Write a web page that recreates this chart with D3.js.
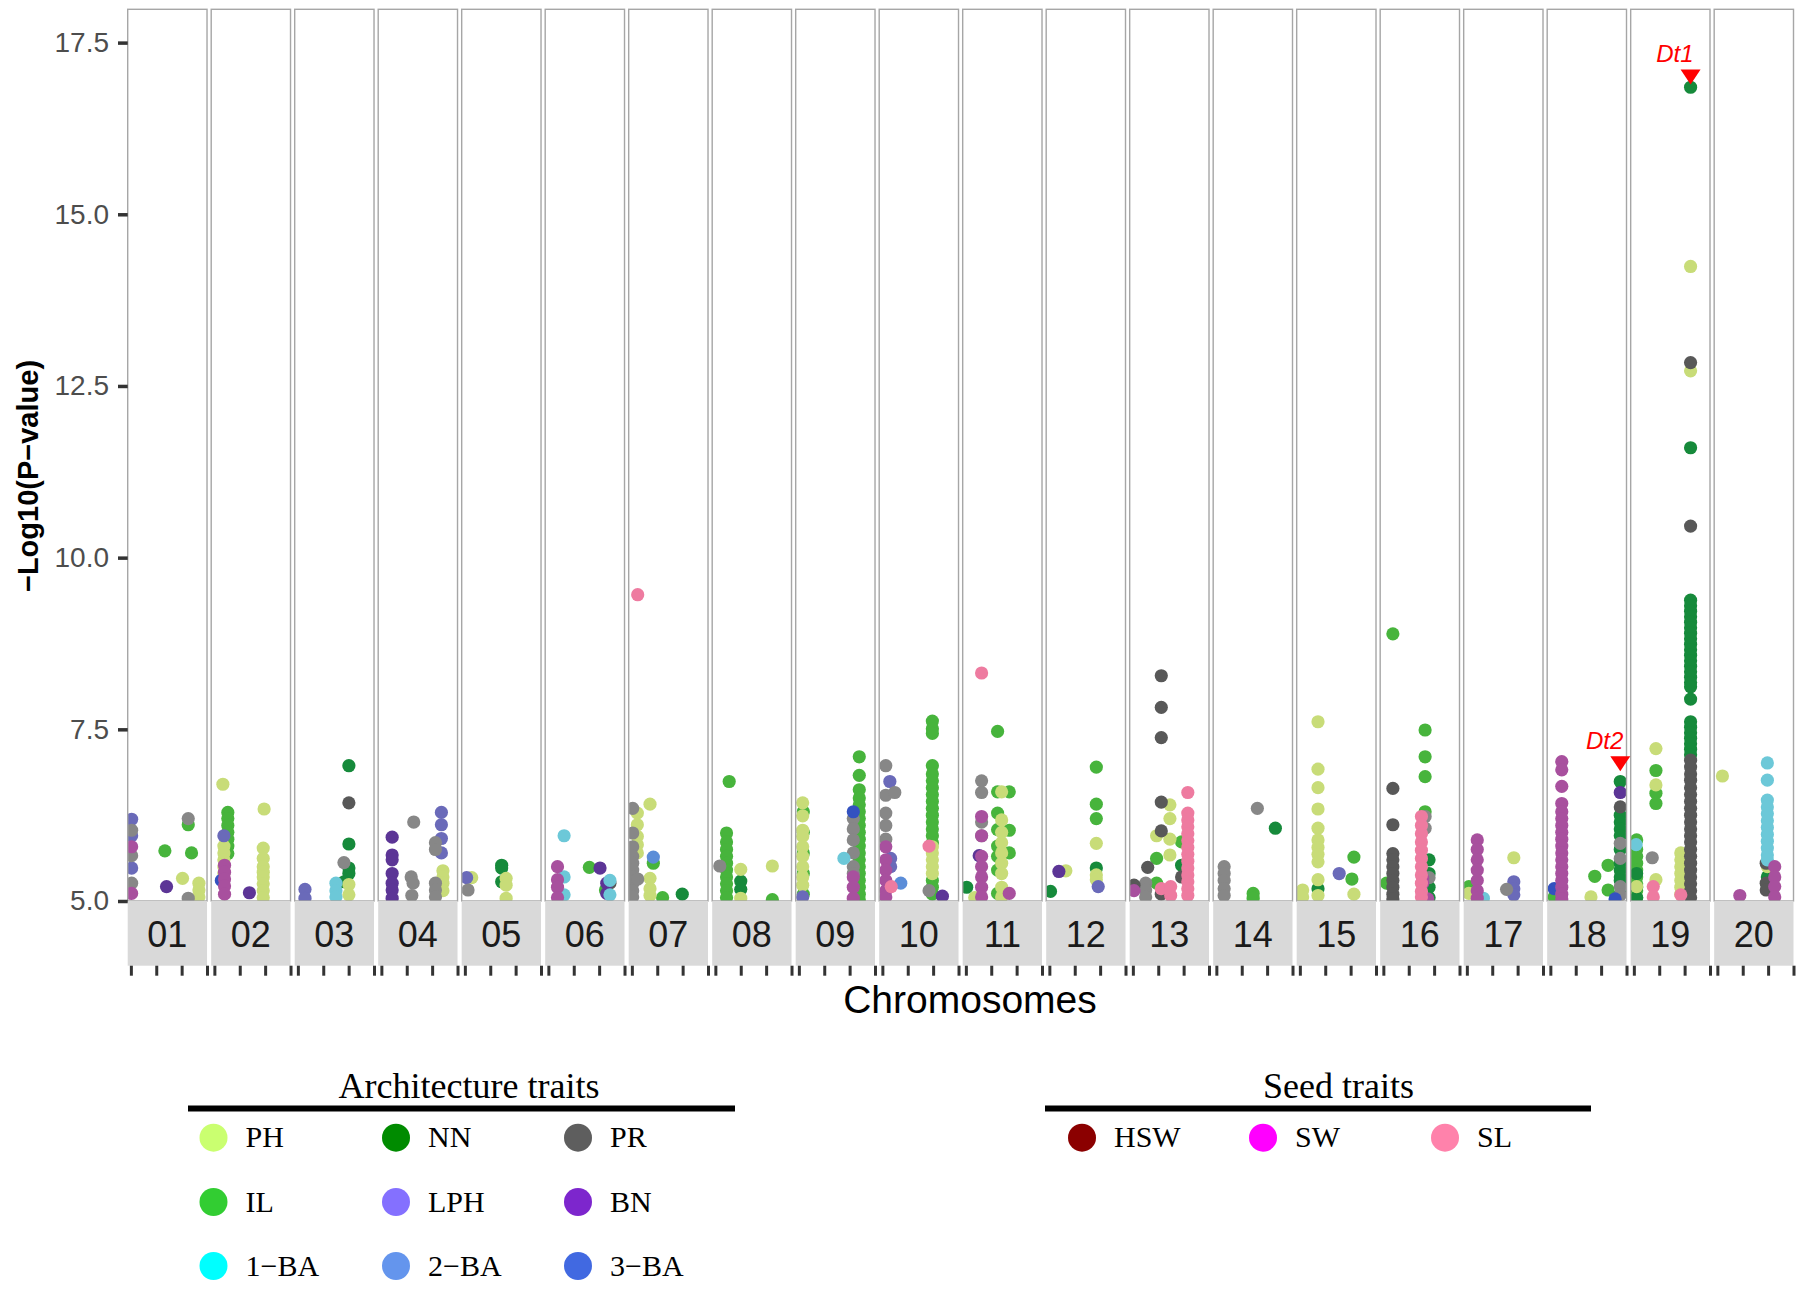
<!DOCTYPE html>
<html>
<head>
<meta charset="utf-8">
<script src="https://cdn.jsdelivr.net/npm/d3@7/dist/d3.min.js"></script>
<style>
  body { margin: 0; background: #fff; }
  svg { display: block; }
</style>
</head>
<body>
<div id="chart"></div>
<script>
// chromosome facets and axis ticks
const chromosomes = ["01","02","03","04","05","06","07","08","09","10",
                     "11","12","13","14","15","16","17","18","19","20"];
const yTicks = [5.0, 7.5, 10.0, 12.5, 15.0, 17.5];
const xTicksMb = [0, 20, 40, 60];

// significant SNPs per trait: [chromosome, position (Mb), -log10(p)]
const IL = [
  [1,26.8,5.73],[1,47.8,5.70],[1,45.2,6.11],
  [2,10.6,6.29],[2,10.6,6.20],[2,10.6,6.10],[2,10.6,6.00],[2,10.6,5.90],[2,10.6,5.80],[2,10.6,5.69],
  [6,32.3,5.49],[6,45,5.16],
  [7,16.9,5.55],[7,24.2,5.05],
  [8,10.9,6.74],[8,8.8,5.99],[8,8.8,5.86],[8,8.8,5.75],[8,8.8,5.65],[8,8.8,5.55],[8,8.8,5.45],
  [8,8.8,5.35],[8,8.8,5.25],[8,8.8,5.15],[8,8.8,5.05],[8,44.9,5.02],
  [9,3.5,6.30],[9,3.5,6.00],[9,3.5,5.70],[9,3.5,5.40],[9,3.5,5.10],
  [9,47.6,7.10],[9,47.6,6.83],[9,47.6,6.62],[9,47.6,6.50],[9,47.6,6.40],[9,47.6,6.30],[9,47.6,6.20],
  [9,47.6,6.10],[9,47.6,6.00],[9,47.6,5.90],[9,47.6,5.80],[9,47.6,5.70],[9,47.6,5.60],[9,47.6,5.50],
  [9,47.6,5.40],[9,47.6,5.30],[9,47.6,5.20],[9,47.6,5.10],[9,47.6,5.02],
  [10,39.4,7.62],[10,39.4,7.51],[10,39.4,7.44],[10,39.4,6.97],[10,39.4,6.85],[10,39.4,6.75],
  [10,39.4,6.65],[10,39.4,6.55],[10,39.4,6.45],[10,39.4,6.35],[10,39.4,6.25],[10,39.4,6.15],
  [10,39.4,6.05],[10,39.4,5.95],[10,39.4,5.85],[10,39.4,5.30],[10,39.4,5.20],[10,39.4,5.10],
  [11,25,7.47],[11,25,6.59],[11,25,6.28],[11,25,6.04],[11,25,5.80],[11,25,5.65],[11,25,5.45],
  [11,25,5.11],[11,34.2,6.59],[11,34.2,6.03],[11,34.2,5.70],
  [12,37,6.95],[12,37,6.41],[12,37,6.20],
  [13,18.7,5.62],[13,18.7,5.26],[13,38.4,5.86],
  [14,29,5.11],[14,29,5.04],
  [15,42.6,5.64],[15,41,5.32],
  [16,7.5,8.89],[16,2.5,5.26],[16,32.9,7.49],[16,32.9,7.10],[16,32.9,6.81],[16,32.9,6.30],
  [17,1.6,5.21],
  [18,3,5.06],[18,35,5.36],[18,45.5,5.52],[18,45.5,5.16],
  [19,2.2,5.89],[19,2.2,5.75],[19,2.2,5.65],[19,2.2,5.55],[19,2.2,5.45],[19,2.2,5.35],
  [19,2.2,5.25],[19,2.2,5.15],[19,2.2,5.05],[19,17.4,6.90],[19,17.4,6.57],[19,17.4,6.42]
];
const NN = [
  [3,40.2,6.97],[3,40.2,5.83],[3,40.2,5.48],[3,40.2,5.40],[3,36.5,5.28],
  [5,29,5.52],[5,29,5.48],[5,29,5.28],
  [7,39.7,5.10],
  [8,20,5.29],[8,20,5.17],
  [11,0.65,5.20],
  [12,0.9,5.14],[12,37,5.48],
  [13,38.4,5.52],
  [14,46.5,6.06],
  [15,14.3,5.18],
  [16,36,5.60],[16,36,5.40],[16,36,5.20],[16,36,5.05],
  [18,55.1,6.74],[18,55.1,6.25],[18,55.1,6.15],[18,55.1,6.05],[18,55.1,5.95],[18,55.1,5.75],
  [18,55.1,5.55],[18,55.1,5.45],[18,55.1,5.35],[18,55.1,5.30],[18,55.1,5.10],
  [19,2.2,5.40],[19,2.2,5.20],[19,2.2,5.05],
  [19,44.7,16.85],[19,44.7,11.60],[19,44.7,9.38],[19,44.7,9.30],[19,44.7,9.22],[19,44.7,9.14],
  [19,44.7,9.06],[19,44.7,8.98],[19,44.7,8.90],[19,44.7,8.82],[19,44.7,8.74],[19,44.7,8.66],
  [19,44.7,8.58],[19,44.7,8.50],[19,44.7,8.42],[19,44.7,8.34],[19,44.7,8.26],[19,44.7,8.18],
  [19,44.7,8.12],[19,44.7,7.94],[19,44.7,7.61],[19,44.7,7.53],[19,44.7,7.45],[19,44.7,7.37],
  [19,44.7,7.29],[19,44.7,7.21],[19,44.7,7.13],
  [20,39.4,5.35]
];
const PH = [
  [1,40.7,5.33],[1,53.6,5.26],[1,53.6,5.16],[1,53.6,5.06],
  [2,6.7,6.70],[2,7.5,5.80],[2,7.5,5.70],[2,7.5,5.60],[2,7.5,5.50],[2,7.5,5.40],
  [2,39.2,6.34],[2,38.5,5.77],[2,38.5,5.62],[2,38.5,5.50],[2,38.5,5.42],[2,38.5,5.35],
  [2,38.5,5.25],[2,38.5,5.15],[2,38.5,5.05],
  [3,40.2,5.24],[3,40.2,5.09],
  [4,48.5,5.44],[4,48.5,5.35],[4,48.5,5.26],[4,48.5,5.15],
  [5,5.4,5.34],[5,32.5,5.33],[5,32.5,5.23],[5,32.5,5.04],
  [7,4.3,6.28],[7,4.3,6.11],[7,4.3,5.94],[7,4.3,5.82],[7,4.3,5.70],
  [7,14.3,6.41],[7,14.3,5.33],[7,14.3,5.18],[7,14.3,5.08],
  [8,20,5.46],[8,20,5.04],[8,44.9,5.51],
  [9,3,6.43],[9,3,6.24],[9,3,6.03],[9,3,5.94],[9,3,5.79],[9,3,5.65],[9,3,5.50],[9,3,5.35],[9,3,5.23],
  [10,39.4,5.79],[10,39.4,5.70],[10,39.4,5.60],[10,39.4,5.50],[10,39.4,5.40],
  [11,28.2,6.59],[11,28.2,6.18],[11,28.2,6.00],[11,28.2,5.85],[11,28.2,5.70],[11,28.2,5.55],
  [11,28.2,5.40],[11,28.2,5.20],[11,28.2,5.06],[11,7,5.05],
  [12,13,5.44],[12,37,5.84],[12,37,5.38],[12,37,5.31],
  [13,29.2,6.40],[13,29.2,6.20],[13,29.2,5.90],[13,29.2,5.67],[13,18.7,5.95],
  [15,2.2,5.16],[15,2.2,5.06],[15,14.3,7.61],[15,14.3,6.92],[15,14.3,6.65],[15,14.3,6.34],
  [15,14.3,6.06],[15,14.3,5.89],[15,14.3,5.78],[15,14.3,5.68],[15,14.3,5.57],[15,14.3,5.31],
  [15,14.3,5.08],[15,42.6,5.10],
  [17,1.6,5.11],[17,37,5.63],
  [18,32,5.06],
  [19,17.4,7.22],[19,17.4,6.69],[19,17.4,5.31],[19,2.2,5.21],
  [19,37,5.70],[19,37,5.60],[19,37,5.50],[19,37,5.40],[19,37,5.30],[19,37,5.20],[19,37,5.10],
  [19,44.7,14.24],[19,44.7,12.72],
  [20,4,6.82],[20,39.4,5.50]
];
const LPH = [
  [1,0.6,6.19],[1,0.6,5.95],[1,0.6,5.48],
  [2,7.5,5.95],
  [3,5.6,5.17],[3,5.6,5.04],
  [4,47.3,6.29],[4,47.3,6.11],[4,47.3,5.91],[4,47.3,5.70],
  [5,1.4,5.34],
  [9,3,5.06],
  [10,5.9,6.74],[10,6.5,5.62],[10,6.5,5.50],
  [12,38.5,5.21],
  [15,31,5.40],
  [17,37,5.28],[17,37,5.18],[17,37,5.09]
];
const PR = [
  [1,0.6,6.03],[1,0.6,5.66],[1,0.6,5.26],[1,45.2,6.20],[1,45.2,5.04],
  [3,36.3,5.56],
  [4,25.5,6.15],[4,23.5,5.35],[4,25,5.26],[4,24,5.08],[4,42.6,5.85],[4,42.6,5.75],
  [4,42.6,5.26],[4,42.6,5.16],[4,42.6,5.06],
  [5,2.5,5.16],
  [7,0.65,6.35],[7,0.65,5.99],[7,0.65,5.79],[7,0.65,5.65],[7,0.65,5.55],[7,0.65,5.45],
  [7,0.65,5.35],[7,0.65,5.25],[7,0.65,5.15],[7,0.65,5.06],[7,4.6,5.32],
  [8,3.5,5.51],
  [9,42.9,6.20],[9,42.9,6.05],[9,42.9,5.89],[9,42.9,5.70],[9,42.9,5.50],[9,42.9,5.40],
  [10,2.7,6.97],[10,2.7,6.54],[10,2.7,6.28],[10,2.7,6.10],[10,2.7,5.90],[10,9.8,6.58],[10,36.8,5.15],
  [11,12.4,6.75],[11,12.4,6.58],[11,12.4,6.15],[11,12.4,5.95],
  [13,10.1,5.26],[13,10.1,5.16],[13,10.1,5.06],
  [14,6.15,5.50],[14,6.15,5.40],[14,6.15,5.30],[14,6.15,5.18],[14,6.15,5.08],[14,32.3,6.35],
  [16,32.9,6.23],[16,32.9,6.06],[16,36,5.34],
  [17,31.3,5.17],
  [18,55.1,5.84],[18,55.1,5.62],[18,55.1,5.21],[18,55.1,5.09],
  [19,14.5,5.63]
];
const HSW = [
  [3,40.2,6.43],
  [6,48.5,5.26],
  [13,22.4,8.28],[13,22.4,7.82],[13,22.4,7.38],[13,22.4,6.44],[13,22.4,6.02],[13,22.4,5.10],
  [13,11.7,5.49],[13,0.9,5.23],[13,38.4,5.35],
  [16,7.5,6.64],[16,7.5,6.11],[16,7.5,5.69],[16,7.5,5.60],[16,7.5,5.50],[16,7.5,5.40],
  [16,7.5,5.30],[16,7.5,5.20],[16,7.5,5.10],[16,7.5,5.03],
  [18,55.1,6.37],
  [19,44.7,12.84],[19,44.7,10.46],[19,44.7,7.05],[19,44.7,6.95],[19,44.7,6.85],[19,44.7,6.76],
  [19,44.7,6.65],[19,44.7,6.55],[19,44.7,6.45],[19,44.7,6.35],[19,44.7,6.25],[19,44.7,6.15],
  [19,44.7,6.05],[19,44.7,5.95],[19,44.7,5.86],[19,44.7,5.75],[19,44.7,5.65],[19,44.7,5.55],
  [19,44.7,5.45],[19,44.7,5.35],[19,44.7,5.25],[19,44.7,5.15],[19,44.7,5.05],
  [20,38.5,5.55],[20,38.5,5.26],[20,38.5,5.16]
];
const BN = [
  [1,28.1,5.21],
  [2,27.6,5.12],
  [4,8.5,5.93],[4,8.5,5.67],[4,8.5,5.60],[4,8.5,5.40],[4,8.5,5.26],[4,8.5,5.16],[4,8.5,5.04],
  [6,40.7,5.48],[6,46,5.26],[6,46,5.11],
  [10,47.3,5.07],
  [11,10.5,5.66],
  [12,7.5,5.43],
  [18,55.1,6.58]
];
const BA1 = [
  [3,30,5.26],[3,30,5.15],[3,30,5.06],
  [6,12.4,5.95],[6,12.4,5.35],[6,12.4,5.09],[6,48.5,5.30],[6,48.5,5.09],
  [9,35.5,5.62],
  [17,13,5.04],
  [19,1.8,5.82],
  [20,39.4,7.01],[20,39.4,6.76],[20,39.4,6.47],[20,39.4,6.37],[20,39.4,6.27],[20,39.4,6.17],
  [20,39.4,6.07],[20,39.4,5.97],[20,39.4,5.87],[20,39.4,5.77],[20,39.4,5.67],[20,39.4,5.60]
];
const BA2 = [[7,16.9,5.64],[10,14.5,5.26]];
const BA3 = [[2,5.5,5.30],[9,42.9,6.30],[18,3,5.18],[18,51,5.03]];
const SW = [
  [1,0.6,5.79],[1,0.6,5.11],
  [2,8,5.52],[2,8,5.42],[2,8,5.32],[2,8,5.22],[2,8,5.10],
  [6,7.2,5.50],[6,7.2,5.31],[6,7.2,5.20],[6,7.2,5.05],
  [9,42.9,5.35],[9,42.9,5.20],[9,42.9,5.04],
  [10,2.7,5.79],[10,2.7,5.60],[10,2.7,5.45],[10,2.7,5.30],[10,2.7,5.15],[10,2.7,5.06],
  [11,12.4,6.23],[11,12.4,5.95],[11,12.4,5.65],[11,12.4,5.50],[11,12.4,5.35],[11,12.4,5.20],
  [11,12.4,5.06],[11,34.2,5.11],
  [13,0.9,5.15],
  [16,31,5.33],[16,31,5.26],[16,35,5.03],
  [17,8.2,5.89],[17,8.2,5.75],[17,8.2,5.60],[17,8.2,5.45],[17,8.2,5.30],[17,8.2,5.15],[17,8.2,5.04],
  [18,9,7.03],[18,9,6.91],[18,9,6.67],[18,9,6.42],[18,9,6.30],[18,9,6.20],[18,9,6.10],[18,9,6.00],
  [18,9,5.90],[18,9,5.80],[18,9,5.70],[18,9,5.60],[18,9,5.50],[18,9,5.40],[18,9,5.30],[18,9,5.20],
  [18,9,5.10],[18,9,5.03],
  [20,17.7,5.08],[20,45.2,5.50],[20,45.2,5.35],[20,45.2,5.21],[20,45.2,5.06]
];
const SL = [
  [7,4.6,9.46],
  [10,36.8,5.80],[10,7,5.21],
  [11,12.4,8.32],
  [13,22.4,5.18],[13,29.8,5.21],[13,29.8,5.08],
  [13,43.3,6.58],[13,43.3,6.28],[13,43.3,6.18],[13,43.3,6.08],[13,43.3,5.98],[13,43.3,5.88],
  [13,43.3,5.78],[13,43.3,5.68],[13,43.3,5.58],[13,43.3,5.48],[13,43.3,5.38],[13,43.3,5.28],
  [13,43.3,5.18],[13,43.3,5.08],
  [16,30,6.23],[16,30,6.10],[16,30,5.98],[16,30,5.86],[16,30,5.74],[16,30,5.62],[16,30,5.50],
  [16,30,5.38],[16,30,5.26],[16,30,5.14],[16,30,5.06],
  [19,15.3,5.21],[19,15.3,5.06],[19,37,5.09]
];

// labelled loci
const annotations = [
  {chr: 19, pos: 44.7, value: 17.0, label: "Dt1"},
  {chr: 18, pos: 55.1, value: 7.0, label: "Dt2"}
];

// legend groups
const archTraits = ["PH","NN","PR","IL","LPH","BN","1-BA","2-BA","3-BA"];
const seedTraits = ["HSW","SW","SL"];

// series in drawing order with the colours seen in the plot
const series = [
  {name: "IL", data: IL, color: "#47b43c"},
  {name: "NN", data: NN, color: "#168a3b"},
  {name: "PH", data: PH, color: "#c8dc78"},
  {name: "LPH", data: LPH, color: "#6a6ab9"},
  {name: "PR", data: PR, color: "#878787"},
  {name: "HSW", data: HSW, color: "#585858"},
  {name: "BN", data: BN, color: "#5c3596"},
  {name: "1-BA", data: BA1, color: "#6cc8d8"},
  {name: "2-BA", data: BA2, color: "#5b8dd8"},
  {name: "3-BA", data: BA3, color: "#3352c0"},
  {name: "SW", data: SW, color: "#a8509e"},
  {name: "SL", data: SL, color: "#ee7ba0"}
];

const legendColor = {
  "PH": "#caff70", "NN": "#008b00", "PR": "#5e5e5e",
  "IL": "#32cd32", "LPH": "#8470ff", "BN": "#7d26cd",
  "1-BA": "#00ffff", "2-BA": "#6495ed", "3-BA": "#4169e1",
  "HSW": "#8b0000", "SW": "#ff00ff", "SL": "#ff82ab"
};

const width = 1805, height = 1289;
const plotTop = 9.3, plotBottom = 901, stripH = 64.7;
const plotLeft = 127.7, plotRight = 1793.5;

const svg = d3.select("#chart").append("svg")
  .attr("width", width)
  .attr("height", height)
  .style("font-family", "'Liberation Sans', Arial, sans-serif");

const xBand = d3.scaleBand()
  .domain(chromosomes)
  .range([plotLeft, plotRight])
  .paddingInner(0.05)
  .paddingOuter(0);

const xPos = d3.scaleLinear()
  .domain([-2.5, 60])
  .range([0, xBand.bandwidth()]);

const y = d3.scaleLinear()
  .domain([5, 17.985])
  .range([plotBottom, plotTop]);

const chrLabel = c => chromosomes[c - 1];

// clip paths for panels
const defs = svg.append("defs");
chromosomes.forEach(c => {
  defs.append("clipPath").attr("id", "clip" + c)
    .append("rect")
    .attr("x", 0).attr("y", plotTop)
    .attr("width", xBand.bandwidth())
    .attr("height", plotBottom - plotTop);
});

const panels = svg.selectAll("g.panel")
  .data(chromosomes)
  .enter().append("g")
  .attr("class", "panel")
  .attr("transform", d => "translate(" + xBand(d) + ",0)");

panels.append("rect")
  .attr("x", 0).attr("y", plotTop)
  .attr("width", xBand.bandwidth())
  .attr("height", plotBottom - plotTop)
  .attr("fill", "#fff");

// points
const pointLayer = panels.append("g")
  .attr("clip-path", d => "url(#clip" + d + ")");

series.forEach(s => {
  pointLayer.each(function(c) {
    d3.select(this).selectAll(null)
      .data(s.data.filter(p => chrLabel(p[0]) === c))
      .enter().append("circle")
      .attr("cx", p => xPos(p[1]))
      .attr("cy", p => y(p[2]))
      .attr("r", 6.6)
      .attr("fill", s.color);
  });
});

// panel borders
panels.append("rect")
  .attr("x", 0).attr("y", plotTop)
  .attr("width", xBand.bandwidth())
  .attr("height", plotBottom - plotTop)
  .attr("fill", "none")
  .attr("stroke", "#a6a6a6")
  .attr("stroke-width", 1.4);

// strips under panels
panels.append("rect")
  .attr("x", 0).attr("y", plotBottom)
  .attr("width", xBand.bandwidth())
  .attr("height", stripH)
  .attr("fill", "#d9d9d9");

panels.append("text")
  .attr("x", xBand.bandwidth() / 2)
  .attr("y", plotBottom + 45.7)
  .attr("text-anchor", "middle")
  .attr("font-size", 36)
  .attr("fill", "#1a1a1a")
  .text(d => d);

// x ticks below the strips (no labels)
panels.each(function() {
  d3.select(this).append("g")
    .attr("transform", "translate(0," + (plotBottom + stripH) + ")")
    .call(d3.axisBottom(xPos).tickValues(xTicksMb).tickSize(10).tickFormat(""))
    .call(g => g.select(".domain").remove())
    .call(g => g.selectAll(".tick line").attr("stroke", "#333").attr("stroke-width", 3));
});

// y axis
svg.append("g")
  .attr("transform", "translate(" + plotLeft + ",0)")
  .call(d3.axisLeft(y).tickValues(yTicks).tickFormat(d3.format(".1f")).tickSize(9.7).tickPadding(9))
  .call(g => g.select(".domain").remove())
  .call(g => g.selectAll(".tick line").attr("stroke", "#333").attr("stroke-width", 3.5))
  .call(g => g.selectAll(".tick text")
    .attr("font-size", 28)
    .attr("fill", "#4d4d4d")
    .attr("font-family", "'Liberation Sans', Arial, sans-serif"));

svg.append("text")
  .attr("transform", "translate(38,476) rotate(-90)")
  .attr("text-anchor", "middle")
  .attr("font-size", 29)
  .attr("font-weight", "bold")
  .attr("fill", "#000")
  .text("\u2212Log10(P\u2212value)");

svg.append("text")
  .attr("x", 970)
  .attr("y", 1013)
  .attr("text-anchor", "middle")
  .attr("font-size", 39)
  .attr("fill", "#000")
  .text("Chromosomes");

// annotations (red triangles + italic gene names)
annotations.forEach(a => {
  const cx = xBand(chrLabel(a.chr)) + xPos(a.pos);
  const cy = y(a.value);
  svg.append("path")
    .attr("d", "M" + (cx - 10) + "," + (cy - 7.5) + "L" + (cx + 10) + "," + (cy - 7.5) + "L" + cx + "," + (cy + 7.5) + "Z")
    .attr("fill", "#ff0000");
  const nearEdge = xPos(a.pos) > xBand.bandwidth() - 20;
  svg.append("text")
    .attr("x", nearEdge ? cx + 3 : cx)
    .attr("y", cy - 15)
    .attr("text-anchor", nearEdge ? "end" : "middle")
    .attr("font-size", 24)
    .attr("font-style", "italic")
    .attr("fill", "#ff0000")
    .text(a.label);
});

// legends
const serif = "'Liberation Serif', 'Times New Roman', serif";
function drawLegend(title, traits, titleX, lineX0, lineX1, colX) {
  const g = svg.append("g").style("font-family", serif);
  g.append("text")
    .attr("x", titleX).attr("y", 1098)
    .attr("text-anchor", "middle")
    .attr("font-size", 36)
    .text(title);
  g.append("line")
    .attr("x1", lineX0).attr("x2", lineX1)
    .attr("y1", 1108.5).attr("y2", 1108.5)
    .attr("stroke", "#000").attr("stroke-width", 6);
  const rowY = [1137.7, 1202, 1266];
  traits.forEach((t, i) => {
    const cx = colX[i % 3], cy = rowY[Math.floor(i / 3)];
    g.append("circle").attr("cx", cx).attr("cy", cy).attr("r", 14).attr("fill", legendColor[t]);
    g.append("text")
      .attr("x", cx + 32).attr("y", cy + 9.6)
      .attr("font-size", 30)
      .text(t.replace("-", "\u2212"));
  });
}
drawLegend("Architecture traits", archTraits, 469, 188, 735, [213.5, 396, 578]);
drawLegend("Seed traits", seedTraits, 1338.5, 1045, 1591, [1082, 1263, 1445]);
</script>
</body>
</html>
